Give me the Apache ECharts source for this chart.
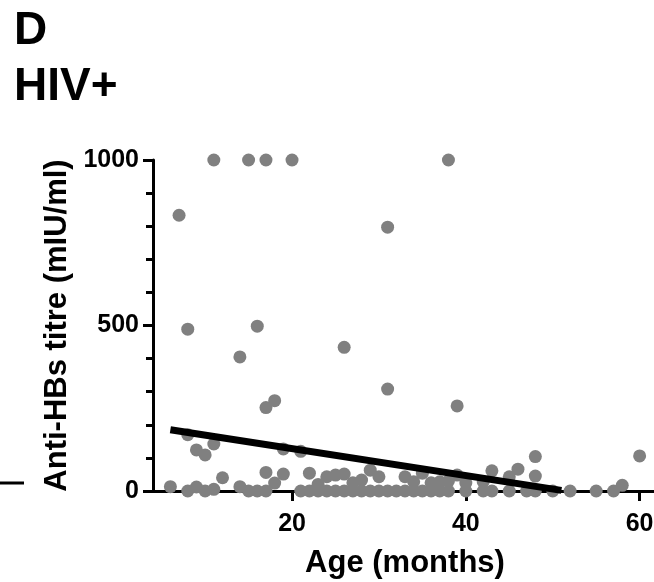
<!DOCTYPE html>
<html>
<head>
<meta charset="utf-8">
<script src="https://cdn.jsdelivr.net/npm/echarts@6/dist/echarts.min.js"></script>
<style>
html,body{margin:0;padding:0;background:#fff;}
#chart{width:654px;height:582px;}
</style>
</head>
<body>
<div id="chart"></div>
<script>
// Scatter: age (months) and anti-HBs titre (mIU/ml)
const ages = [7, 8, 11, 15, 17, 20, 38, 31, 16, 14, 26, 31, 39, 18, 17, 48, 60, 8, 9, 10, 11, 19, 21,
  12, 17, 18, 19, 22, 24, 25, 26, 28, 29, 30, 33, 35, 37, 39, 40, 42, 43, 45, 46, 48, 58, 6, 9, 14, 11,
  23, 27, 34, 36, 38,
  8, 10, 15, 16, 17, 21, 22, 23, 24, 25, 26, 27, 28, 29, 30, 31, 32, 33, 34, 35, 36, 37, 38, 40, 42, 43, 45, 47, 48, 50, 52, 55, 57];
const titres = [833, 489, 1000, 1000, 1000, 1000, 1000, 797, 498, 405, 434, 308, 257, 273, 252, 104, 106, 170, 124, 109, 142, 127, 120,
  40, 56, 24, 51, 54, 43, 48, 51, 33, 63, 43, 43, 54, 28, 48, 24, 28, 61, 43, 66, 45, 17, 13, 12, 13, 5,
  20, 25, 28, 25, 30,
  0, 0, 0, 0, 0, 0, 0, 0, 0, 0, 0, 0, 0, 0, 0, 0, 0, 0, 0, 0, 0, 0, 0, 0, 0, 0, 0, 0, 0, 0, 0, 0, 0];
// Regression line endpoints
const fitAges = [6, 51];
const fitTitres = [185, 2];
const xTicks = [20, 40, 60];
const yTicks = [0, 500, 1000];

const FONT = '"Liberation Sans", Arial, sans-serif';
const chart = echarts.init(document.getElementById('chart'), null, {renderer: 'canvas'});
const points = ages.map((a, i) => [a, titres[i]]);
const fit = fitAges.map((a, i) => [a, fitTitres[i]]);

chart.setOption({
  animation: false,
  backgroundColor: '#fff',
  grid: {left: 153, top: 160, width: 504, height: 331, containLabel: false, outerBoundsMode: 'none'},
  xAxis: {
    type: 'value', min: 4, max: 62,
    name: 'Age (months)', nameLocation: 'middle', nameGap: 57,
    nameTextStyle: {fontFamily: FONT, fontWeight: 'bold', fontSize: 31, color: '#000'},
    axisLine: {show: true, onZero: false, lineStyle: {color: '#000', width: 3}},
    axisTick: {show: true, customValues: xTicks, length: 10, lineStyle: {color: '#000', width: 3}},
    axisLabel: {show: true, customValues: xTicks, margin: 21, formatter: v => String(v),
      fontFamily: FONT, fontWeight: 'bold', fontSize: 25, color: '#000'},
    splitLine: {show: false}
  },
  yAxis: {
    type: 'value', min: 0, max: 1000, interval: 500,
    name: 'Anti-HBs titre (mIU/ml)', nameLocation: 'middle', nameGap: 80,
    nameTextStyle: {fontFamily: FONT, fontWeight: 'bold', fontSize: 31, color: '#000'},
    axisLine: {show: true, lineStyle: {color: '#000', width: 3}},
    axisTick: {show: true, customValues: yTicks, length: 10, lineStyle: {color: '#000', width: 3}},
    minorTick: {show: true, splitNumber: 5, length: 7, lineStyle: {color: '#000', width: 3}},
    axisLabel: {show: true, customValues: yTicks, margin: 14, formatter: v => String(v),
      fontFamily: FONT, fontWeight: 'bold', fontSize: 25, color: '#000'},
    splitLine: {show: false}, minorSplitLine: {show: false}
  },
  series: [
    {type: 'scatter', data: points, symbol: 'circle', symbolSize: 13,
     itemStyle: {color: '#808080', opacity: 1}, z: 2, clip: false},
    {type: 'line', data: fit, symbol: 'none', lineStyle: {color: '#000', width: 7}, z: 3, silent: true}
  ],
  graphic: [
    {type: 'text', left: 14, top: 8, style: {text: 'D', font: 'bold 46px ' + FONT, fill: '#000'}},
    {type: 'text', left: 14, top: 64, style: {text: 'HIV+', font: 'bold 46px ' + FONT, fill: '#000'}},
    {type: 'line', shape: {x1: 0, y1: 483, x2: 24, y2: 483}, style: {stroke: '#000', lineWidth: 3}}
  ]
});
</script>
</body>
</html>
